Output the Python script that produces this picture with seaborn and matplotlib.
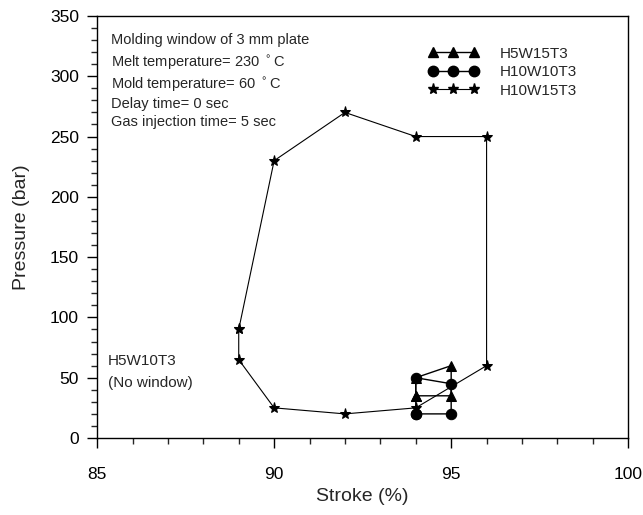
import matplotlib
matplotlib.use("Agg")
import matplotlib.pyplot as plt
import seaborn as sns
import pandas as pd
from matplotlib.ticker import MultipleLocator
from matplotlib.lines import Line2D

sns.set_theme(style="ticks")
plt.rcParams['font.family'] = ['Liberation Sans', 'DejaVu Sans']

# Data (closed paths of molding windows)
h5w15t3_x = [94, 94, 95, 95, 94]
h5w15t3_y = [35, 50, 60, 35, 35]

h10w10t3_x = [94, 94, 95, 95, 94]
h10w10t3_y = [20, 50, 45, 20, 20]

h10w15t3_x = [89, 90, 92, 94, 96, 96, 94, 92, 90, 89, 89]
h10w15t3_y = [90, 230, 270, 250, 250, 60, 25, 20, 25, 65, 90]

series_names = ["H5W15T3", "H10W10T3", "H10W15T3"]
markers = ["^", "o", "*"]

fig = plt.figure(figsize=(6.43, 5.15), dpi=100)
ax = fig.add_axes([0.151, 0.1495, 0.826, 0.8195])

data = [(h5w15t3_x, h5w15t3_y), (h10w10t3_x, h10w10t3_y), (h10w15t3_x, h10w15t3_y)]
sizes = [7, 7.5, 8]
lws = [1.0, 1.0, 0.8]
for (xs, ys), name, m, ms, lw in zip(data, series_names, markers, sizes, lws):
    df = pd.DataFrame({"x": xs, "y": ys})
    sns.lineplot(data=df, x="x", y="y", sort=False, estimator=None, ax=ax,
                 color="black", marker=m, markersize=ms, linewidth=lw,
                 markeredgecolor="black", markerfacecolor="black")

ax.set_xlim(85, 100)
ax.set_ylim(0, 350)
ax.xaxis.set_major_locator(MultipleLocator(5))
ax.xaxis.set_minor_locator(MultipleLocator(1))
ax.yaxis.set_major_locator(MultipleLocator(50))
ax.yaxis.set_minor_locator(MultipleLocator(10))
ax.tick_params(which="major", direction="out", length=7, width=1, labelsize=12.5, colors="black")
ax.tick_params(which="minor", direction="out", length=4, width=1)
ax.tick_params(axis="x", pad=14)
ax.tick_params(axis="y", pad=6)
for s in ax.spines.values():
    s.set_linewidth(1.0)
    s.set_color("black")
ax.set_xlabel("Stroke (%)", fontsize=14, labelpad=4)
ax.set_ylabel("Pressure (bar)", fontsize=14, labelpad=14)

lines_txt = ["Molding window of 3 mm plate",
             "Melt temperature= 230 $^\\circ$C",
             "Mold temperature= 60 $^\\circ$C",
             "Delay time= 0 sec",
             "Gas injection time= 5 sec"]
ys_txt = [330, 311, 293, 277, 262]
for t, yv in zip(lines_txt, ys_txt):
    ax.text(85.4, yv, t, fontsize=10.5, va="center", ha="left")

ax.text(85.3, 64, "H5W10T3", fontsize=11, va="center", ha="left")
ax.text(85.3, 46, "(No window)", fontsize=11, va="center", ha="left")

handles = [Line2D([0, 0.5, 1], [0, 0, 0], color="black", marker=m, markersize=ms, linewidth=lw)
           for m, ms, lw in zip(markers, [7, 7.5, 8], lws)]
leg = ax.legend(handles, series_names, loc="upper left", bbox_to_anchor=(0.597, 0.96),
                frameon=False, fontsize=11, handlelength=3.3, numpoints=3,
                labelspacing=0.3, handletextpad=1.4)

fig.savefig("out.png", dpi=100)
